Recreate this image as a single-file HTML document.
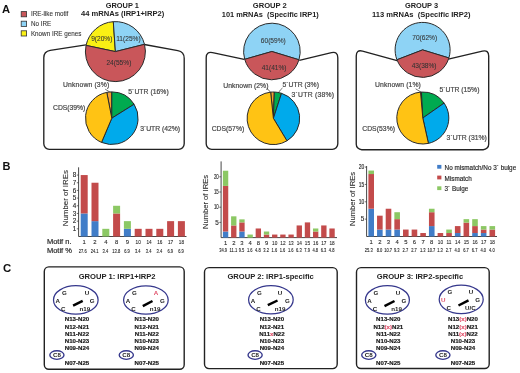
<!DOCTYPE html>
<html><head><meta charset="utf-8"><style>
html,body{margin:0;padding:0;background:#fff;width:520px;height:373px;overflow:hidden}
svg{display:block;will-change:transform;filter:blur(0.3px);font-family:"Liberation Sans", sans-serif}
</style></head><body>
<svg width="520" height="373" viewBox="0 0 520 373">
<rect width="520" height="373" fill="#fff"/>
<text x="2.0" y="13.3" font-size="11.2" font-weight="bold" fill="#111" text-anchor="start" >A</text>
<rect x="21.2" y="11.6" width="5.4" height="5.2" fill="#C9565A" stroke="#333" stroke-width="0.8"/>
<text x="30.9" y="16.4" font-size="6.3" font-weight="normal" fill="#333" text-anchor="start" stroke="#333" stroke-width="0.08">IRE-like motif</text>
<rect x="21.2" y="21.2" width="5.4" height="5.2" fill="#8ED3F5" stroke="#333" stroke-width="0.8"/>
<text x="30.9" y="26.0" font-size="6.3" font-weight="normal" fill="#333" text-anchor="start" stroke="#333" stroke-width="0.08">No IRE</text>
<rect x="21.2" y="30.8" width="5.4" height="5.2" fill="#FAF014" stroke="#333" stroke-width="0.8"/>
<text x="30.9" y="35.6" font-size="6.3" font-weight="normal" fill="#333" text-anchor="start" stroke="#333" stroke-width="0.08">Known IRE genes</text>
<text x="122.3" y="7.7" font-size="7.4" font-weight="bold" fill="#222" text-anchor="middle" >GROUP 1</text>
<text x="122.6" y="16.4" font-size="7.6" font-weight="bold" fill="#222" text-anchor="middle" >44 mRNAs (IRP1+IRP2)</text>
<text x="269.8" y="8.2" font-size="7.6" font-weight="bold" fill="#222" text-anchor="middle" >GROUP 2</text>
<text x="270.3" y="17.1" font-size="7.4" font-weight="bold" fill="#222" text-anchor="middle" >101 mRNAs&#160;&#160;(Specific IRP1)</text>
<text x="421.5" y="8.2" font-size="7.4" font-weight="bold" fill="#222" text-anchor="middle" >GROUP 3</text>
<text x="421.3" y="17.1" font-size="7.55" font-weight="bold" fill="#222" text-anchor="middle" >113 mRNAs&#160;&#160;(Specific IRP2)</text>
<path d="M85.9,44.9 L50.23,50.32 Q43.8,51.3 43.80,57.80 L43.8,143.8 A5.5,5.5 0 0 0 49.3,149.3 L178.7,149.3 A5.5,5.5 0 0 0 184.2,143.8 L184.20,58.30 Q184.2,51.8 177.81,50.63 L144.3,44.5" fill="none" stroke="#222" stroke-width="1.35" stroke-linejoin="round"/>
<path d="M244.2,59.4 L212.55,52.57 Q206.2,51.2 206.20,57.70 L206.2,143.8 A5.5,5.5 0 0 0 211.7,149.3 L332.3,149.3 A5.5,5.5 0 0 0 337.8,143.8 L337.80,57.70 Q337.8,51.2 331.48,52.71 L299.3,60.4" fill="none" stroke="#222" stroke-width="1.35" stroke-linejoin="round"/>
<path d="M397.1,60.7 L362.51,51.13 Q356.25,49.4 356.25,55.90 L356.25,144.2 A5.5,5.5 0 0 0 361.75,149.7 L483.2,149.7 A5.5,5.5 0 0 0 488.7,144.2 L488.70,56.10 Q488.7,49.6 482.38,51.11 L448.4,59.2" fill="none" stroke="#222" stroke-width="1.35" stroke-linejoin="round"/>
<path d="M115.40,51.60 L86.06,45.36 A30,30 0 0 1 113.31,21.67 Z" fill="#FAF014" stroke="#2a2a2a" stroke-width="1.0" stroke-linejoin="round"/>
<path d="M115.40,51.60 L113.31,21.67 A30,30 0 0 1 144.51,44.34 Z" fill="#8ED3F5" stroke="#2a2a2a" stroke-width="1.0" stroke-linejoin="round"/>
<path d="M115.40,51.60 L144.51,44.34 A30,30 0 1 1 86.06,45.36 Z" fill="#C9565A" stroke="#2a2a2a" stroke-width="1.0" stroke-linejoin="round"/>
<path d="M271.90,51.50 L244.70,59.30 A28.3,28.3 0 1 1 298.96,59.77 Z" fill="#8ED3F5" stroke="#2a2a2a" stroke-width="1.0" stroke-linejoin="round"/>
<path d="M271.90,51.50 L298.96,59.77 A28.3,28.3 0 0 1 244.70,59.30 Z" fill="#C9565A" stroke="#2a2a2a" stroke-width="1.0" stroke-linejoin="round"/>
<path d="M422.60,49.90 L396.93,59.76 A27.5,27.5 0 1 1 448.90,57.94 Z" fill="#8ED3F5" stroke="#2a2a2a" stroke-width="1.0" stroke-linejoin="round"/>
<path d="M422.60,49.90 L448.90,57.94 A27.5,27.5 0 0 1 396.93,59.76 Z" fill="#C9565A" stroke="#2a2a2a" stroke-width="1.0" stroke-linejoin="round"/>
<text x="101.8" y="41" font-size="6.6" fill="#333" stroke="#333" stroke-width="0.06" text-anchor="middle">9(20%)</text>
<text x="128.4" y="40.8" font-size="6.6" fill="#333" stroke="#333" stroke-width="0.06" text-anchor="middle">11(25%)</text>
<text x="118.9" y="65.2" font-size="6.6" fill="#333" stroke="#333" stroke-width="0.06" text-anchor="middle">24(55%)</text>
<text x="273.3" y="43.3" font-size="6.6" fill="#333" stroke="#333" stroke-width="0.06" text-anchor="middle">60(59%)</text>
<text x="274.1" y="69.6" font-size="6.6" fill="#333" stroke="#333" stroke-width="0.06" text-anchor="middle">41(41%)</text>
<text x="424.7" y="40.2" font-size="6.6" fill="#333" stroke="#333" stroke-width="0.06" text-anchor="middle">70(62%)</text>
<text x="424.1" y="68.2" font-size="6.6" fill="#333" stroke="#333" stroke-width="0.06" text-anchor="middle">43(38%)</text>
<path d="M111.80,118.20 L106.78,92.38 A26.3,26.3 0 0 1 111.80,91.90 Z" fill="#F3A030" stroke="#2a2a2a" stroke-width="1.0" stroke-linejoin="round"/>
<path d="M111.80,118.20 L111.80,91.90 A26.3,26.3 0 0 1 134.10,104.26 Z" fill="#00AA50" stroke="#2a2a2a" stroke-width="1.0" stroke-linejoin="round"/>
<path d="M111.80,118.20 L134.10,104.26 A26.3,26.3 0 0 1 101.52,142.41 Z" fill="#00AAEB" stroke="#2a2a2a" stroke-width="1.0" stroke-linejoin="round"/>
<path d="M111.80,118.20 L101.52,142.41 A26.3,26.3 0 0 1 106.78,92.38 Z" fill="#FFC314" stroke="#2a2a2a" stroke-width="1.0" stroke-linejoin="round"/>
<path d="M273.40,118.30 L270.65,92.14 A26.3,26.3 0 0 1 274.32,92.02 Z" fill="#F3A030" stroke="#2a2a2a" stroke-width="1.0" stroke-linejoin="round"/>
<path d="M273.40,118.30 L274.32,92.02 A26.3,26.3 0 0 1 281.53,93.29 Z" fill="#00AA50" stroke="#2a2a2a" stroke-width="1.0" stroke-linejoin="round"/>
<path d="M273.40,118.30 L281.53,93.29 A26.3,26.3 0 0 1 286.95,140.84 Z" fill="#00AAEB" stroke="#2a2a2a" stroke-width="1.0" stroke-linejoin="round"/>
<path d="M273.40,118.30 L286.95,140.84 A26.3,26.3 0 1 1 270.65,92.14 Z" fill="#FFC314" stroke="#2a2a2a" stroke-width="1.0" stroke-linejoin="round"/>
<path d="M422.80,118.00 L420.53,92.10 A26,26 0 0 1 421.44,92.04 Z" fill="#F3A030" stroke="#2a2a2a" stroke-width="1.0" stroke-linejoin="round"/>
<path d="M422.80,118.00 L421.44,92.04 A26,26 0 0 1 444.10,103.09 Z" fill="#00AA50" stroke="#2a2a2a" stroke-width="1.0" stroke-linejoin="round"/>
<path d="M422.80,118.00 L444.10,103.09 A26,26 0 0 1 428.43,143.38 Z" fill="#00AAEB" stroke="#2a2a2a" stroke-width="1.0" stroke-linejoin="round"/>
<path d="M422.80,118.00 L428.43,143.38 A26,26 0 1 1 420.53,92.10 Z" fill="#FFC314" stroke="#2a2a2a" stroke-width="1.0" stroke-linejoin="round"/>
<text x="63" y="86.5" font-size="6.8" fill="#484848" stroke="#484848" stroke-width="0.2" textLength="46.20" lengthAdjust="spacing">Unknown (3%)</text>
<text x="128.3" y="94" font-size="6.8" fill="#484848" stroke="#484848" stroke-width="0.2" textLength="40.40" lengthAdjust="spacing">5´UTR (16%)</text>
<text x="53" y="110.2" font-size="6.8" fill="#484848" stroke="#484848" stroke-width="0.2" textLength="32.30" lengthAdjust="spacing">CDS(39%)</text>
<text x="140.2" y="131" font-size="6.8" fill="#484848" stroke="#484848" stroke-width="0.2" textLength="39.70" lengthAdjust="spacing">3´UTR (42%)</text>
<text x="223.3" y="88" font-size="6.8" fill="#484848" stroke="#484848" stroke-width="0.2" textLength="45.10" lengthAdjust="spacing">Unknown (2%)</text>
<text x="282.5" y="86.5" font-size="6.8" fill="#484848" stroke="#484848" stroke-width="0.2" textLength="36.40" lengthAdjust="spacing">5´UTR (3%)</text>
<text x="291.6" y="97" font-size="6.8" fill="#484848" stroke="#484848" stroke-width="0.2" textLength="42.40" lengthAdjust="spacing">3´UTR (38%)</text>
<text x="211.7" y="131.2" font-size="6.8" fill="#484848" stroke="#484848" stroke-width="0.2" textLength="32.50" lengthAdjust="spacing">CDS(57%)</text>
<text x="375.1" y="86.8" font-size="6.8" fill="#484848" stroke="#484848" stroke-width="0.2" textLength="45.70" lengthAdjust="spacing">Unknown (1%)</text>
<text x="439.5" y="92" font-size="6.8" fill="#484848" stroke="#484848" stroke-width="0.2" textLength="39.90" lengthAdjust="spacing">5´UTR (15%)</text>
<text x="362.2" y="131" font-size="6.8" fill="#484848" stroke="#484848" stroke-width="0.2" textLength="32.80" lengthAdjust="spacing">CDS(53%)</text>
<text x="446.6" y="140.3" font-size="6.8" fill="#484848" stroke="#484848" stroke-width="0.2" textLength="40.20" lengthAdjust="spacing">3´UTR (31%)</text>
<path d="M105.2,89.2 L110.3,92.3" fill="none" stroke="#333" stroke-width="0.7"/>
<path d="M266.6,88.2 Q269,89.8 270.5,92.4" fill="none" stroke="#333" stroke-width="0.7"/>
<path d="M282.5,88 Q280,90 278.6,92.4" fill="none" stroke="#333" stroke-width="0.7"/>
<path d="M415.6,88.8 L421.5,92.4" fill="none" stroke="#333" stroke-width="0.7"/>
<text x="2.6" y="169.8" font-size="11" font-weight="bold" fill="#111" text-anchor="start" >B</text>
<path d="M78.6,167.3 L78.6,236.5 L186.5,236.5" fill="none" stroke="#333" stroke-width="0.9"/>
<path d="M76.8,228.82 L78.6,228.82" stroke="#333" stroke-width="0.7"/>
<text x="76.19999999999999" y="231.02" font-size="6.3" fill="#2a2a2a" stroke="#2a2a2a" stroke-width="0.15" text-anchor="end">1</text>
<path d="M76.8,221.14 L78.6,221.14" stroke="#333" stroke-width="0.7"/>
<text x="76.19999999999999" y="223.34" font-size="6.3" fill="#2a2a2a" stroke="#2a2a2a" stroke-width="0.15" text-anchor="end">2</text>
<path d="M76.8,213.46 L78.6,213.46" stroke="#333" stroke-width="0.7"/>
<text x="76.19999999999999" y="215.66" font-size="6.3" fill="#2a2a2a" stroke="#2a2a2a" stroke-width="0.15" text-anchor="end">3</text>
<path d="M76.8,205.78 L78.6,205.78" stroke="#333" stroke-width="0.7"/>
<text x="76.19999999999999" y="207.98" font-size="6.3" fill="#2a2a2a" stroke="#2a2a2a" stroke-width="0.15" text-anchor="end">4</text>
<path d="M76.8,198.10 L78.6,198.10" stroke="#333" stroke-width="0.7"/>
<text x="76.19999999999999" y="200.30" font-size="6.3" fill="#2a2a2a" stroke="#2a2a2a" stroke-width="0.15" text-anchor="end">5</text>
<path d="M76.8,190.42 L78.6,190.42" stroke="#333" stroke-width="0.7"/>
<text x="76.19999999999999" y="192.62" font-size="6.3" fill="#2a2a2a" stroke="#2a2a2a" stroke-width="0.15" text-anchor="end">6</text>
<path d="M76.8,182.74 L78.6,182.74" stroke="#333" stroke-width="0.7"/>
<text x="76.19999999999999" y="184.94" font-size="6.3" fill="#2a2a2a" stroke="#2a2a2a" stroke-width="0.15" text-anchor="end">7</text>
<path d="M76.8,175.06 L78.6,175.06" stroke="#333" stroke-width="0.7"/>
<text x="76.19999999999999" y="177.26" font-size="6.3" fill="#2a2a2a" stroke="#2a2a2a" stroke-width="0.15" text-anchor="end">8</text>
<rect x="80.70" y="213.46" width="7.0" height="23.04" fill="#417DC8"/>
<rect x="80.70" y="175.06" width="7.0" height="38.40" fill="#C34B4B"/>
<text x="84.20" y="243.70" font-size="5.9" fill="#2a2a2a" stroke="#2a2a2a" stroke-width="0.1" text-anchor="middle">1</text>
<text x="82.70" y="252.50" font-size="5.2" fill="#222" stroke="#222" stroke-width="0.1" text-anchor="middle" textLength="7.89" lengthAdjust="spacingAndGlyphs">27.6</text>
<rect x="91.50" y="221.14" width="7.0" height="15.36" fill="#417DC8"/>
<rect x="91.50" y="182.74" width="7.0" height="38.40" fill="#C34B4B"/>
<text x="95.00" y="243.70" font-size="5.9" fill="#2a2a2a" stroke="#2a2a2a" stroke-width="0.1" text-anchor="middle">2</text>
<text x="94.60" y="252.50" font-size="5.2" fill="#222" stroke="#222" stroke-width="0.1" text-anchor="middle" textLength="7.89" lengthAdjust="spacingAndGlyphs">24.1</text>
<rect x="102.30" y="228.82" width="7.0" height="7.68" fill="#8CC864"/>
<text x="105.80" y="243.70" font-size="5.9" fill="#2a2a2a" stroke="#2a2a2a" stroke-width="0.1" text-anchor="middle">4</text>
<text x="105.40" y="252.50" font-size="5.2" fill="#222" stroke="#222" stroke-width="0.1" text-anchor="middle" textLength="5.64" lengthAdjust="spacingAndGlyphs">3.4</text>
<rect x="113.10" y="213.46" width="7.0" height="23.04" fill="#C34B4B"/>
<rect x="113.10" y="205.78" width="7.0" height="7.68" fill="#8CC864"/>
<text x="116.60" y="243.70" font-size="5.9" fill="#2a2a2a" stroke="#2a2a2a" stroke-width="0.1" text-anchor="middle">8</text>
<text x="116.20" y="252.50" font-size="5.2" fill="#222" stroke="#222" stroke-width="0.1" text-anchor="middle" textLength="7.89" lengthAdjust="spacingAndGlyphs">13.8</text>
<rect x="123.90" y="228.82" width="7.0" height="7.68" fill="#417DC8"/>
<rect x="123.90" y="221.14" width="7.0" height="7.68" fill="#8CC864"/>
<text x="127.40" y="243.70" font-size="5.9" fill="#2a2a2a" stroke="#2a2a2a" stroke-width="0.1" text-anchor="middle">9</text>
<text x="127.00" y="252.50" font-size="5.2" fill="#222" stroke="#222" stroke-width="0.1" text-anchor="middle" textLength="5.64" lengthAdjust="spacingAndGlyphs">6.9</text>
<rect x="134.70" y="228.82" width="7.0" height="7.68" fill="#C34B4B"/>
<text x="138.20" y="243.70" font-size="5.9" fill="#2a2a2a" stroke="#2a2a2a" stroke-width="0.1" text-anchor="middle" textLength="5.25" lengthAdjust="spacingAndGlyphs">10</text>
<text x="137.80" y="252.50" font-size="5.2" fill="#222" stroke="#222" stroke-width="0.1" text-anchor="middle" textLength="5.64" lengthAdjust="spacingAndGlyphs">3.4</text>
<rect x="145.50" y="228.82" width="7.0" height="7.68" fill="#C34B4B"/>
<text x="149.00" y="243.70" font-size="5.9" fill="#2a2a2a" stroke="#2a2a2a" stroke-width="0.1" text-anchor="middle" textLength="5.25" lengthAdjust="spacingAndGlyphs">14</text>
<text x="148.60" y="252.50" font-size="5.2" fill="#222" stroke="#222" stroke-width="0.1" text-anchor="middle" textLength="5.64" lengthAdjust="spacingAndGlyphs">3.4</text>
<rect x="156.30" y="228.82" width="7.0" height="7.68" fill="#C34B4B"/>
<text x="159.80" y="243.70" font-size="5.9" fill="#2a2a2a" stroke="#2a2a2a" stroke-width="0.1" text-anchor="middle" textLength="5.25" lengthAdjust="spacingAndGlyphs">16</text>
<text x="159.40" y="252.50" font-size="5.2" fill="#222" stroke="#222" stroke-width="0.1" text-anchor="middle" textLength="5.64" lengthAdjust="spacingAndGlyphs">3.4</text>
<rect x="167.10" y="221.14" width="7.0" height="15.36" fill="#C34B4B"/>
<text x="170.60" y="243.70" font-size="5.9" fill="#2a2a2a" stroke="#2a2a2a" stroke-width="0.1" text-anchor="middle" textLength="5.25" lengthAdjust="spacingAndGlyphs">17</text>
<text x="170.20" y="252.50" font-size="5.2" fill="#222" stroke="#222" stroke-width="0.1" text-anchor="middle" textLength="5.64" lengthAdjust="spacingAndGlyphs">6.9</text>
<rect x="177.90" y="221.14" width="7.0" height="15.36" fill="#C34B4B"/>
<text x="181.40" y="243.70" font-size="5.9" fill="#2a2a2a" stroke="#2a2a2a" stroke-width="0.1" text-anchor="middle" textLength="5.25" lengthAdjust="spacingAndGlyphs">18</text>
<text x="181.00" y="252.50" font-size="5.2" fill="#222" stroke="#222" stroke-width="0.1" text-anchor="middle" textLength="5.64" lengthAdjust="spacingAndGlyphs">6.9</text>
<text transform="translate(67.6,198.2) rotate(-90)" font-size="7.9" fill="#333" stroke="#333" stroke-width="0.12" text-anchor="middle">Number of IREs</text>
<text x="46.9" y="243.8" font-size="7.5" fill="#2a2a2a" stroke="#2a2a2a" stroke-width="0.2">Motif n.</text>
<text x="46.9" y="252.6" font-size="7.5" fill="#2a2a2a" stroke="#2a2a2a" stroke-width="0.2">Motif %</text>
<path d="M221.1,161.4 L221.1,237.6 L337,237.6" fill="none" stroke="#333" stroke-width="0.9"/>
<path d="M219.29999999999998,222.40 L221.1,222.40" stroke="#333" stroke-width="0.7"/>
<text x="218.7" y="224.60" font-size="6.3" fill="#2a2a2a" stroke="#2a2a2a" stroke-width="0.15" text-anchor="end">5</text>
<path d="M219.29999999999998,207.20 L221.1,207.20" stroke="#333" stroke-width="0.7"/>
<text x="218.7" y="209.40" font-size="6.3" fill="#2a2a2a" stroke="#2a2a2a" stroke-width="0.15" text-anchor="end" textLength="4.8" lengthAdjust="spacingAndGlyphs">10</text>
<path d="M219.29999999999998,192.00 L221.1,192.00" stroke="#333" stroke-width="0.7"/>
<text x="218.7" y="194.20" font-size="6.3" fill="#2a2a2a" stroke="#2a2a2a" stroke-width="0.15" text-anchor="end" textLength="4.8" lengthAdjust="spacingAndGlyphs">15</text>
<path d="M219.29999999999998,176.80 L221.1,176.80" stroke="#333" stroke-width="0.7"/>
<text x="218.7" y="179.00" font-size="6.3" fill="#2a2a2a" stroke="#2a2a2a" stroke-width="0.15" text-anchor="end" textLength="4.8" lengthAdjust="spacingAndGlyphs">20</text>
<rect x="222.90" y="231.52" width="5.35" height="6.08" fill="#417DC8"/>
<rect x="222.90" y="185.92" width="5.35" height="45.60" fill="#C34B4B"/>
<rect x="222.90" y="170.72" width="5.35" height="15.20" fill="#8CC864"/>
<text x="225.58" y="244.80" font-size="5.9" fill="#2a2a2a" stroke="#2a2a2a" stroke-width="0.1" text-anchor="middle">1</text>
<text x="223.08" y="252.20" font-size="5.2" fill="#222" stroke="#222" stroke-width="0.1" text-anchor="middle" textLength="7.89" lengthAdjust="spacingAndGlyphs">34.9</text>
<rect x="231.09" y="225.44" width="5.35" height="12.16" fill="#C34B4B"/>
<rect x="231.09" y="216.32" width="5.35" height="9.12" fill="#8CC864"/>
<text x="233.77" y="244.80" font-size="5.9" fill="#2a2a2a" stroke="#2a2a2a" stroke-width="0.1" text-anchor="middle">2</text>
<text x="233.37" y="252.20" font-size="5.2" fill="#222" stroke="#222" stroke-width="0.1" text-anchor="middle" textLength="7.59" lengthAdjust="spacingAndGlyphs">11.1</text>
<rect x="239.28" y="231.52" width="5.35" height="6.08" fill="#417DC8"/>
<rect x="239.28" y="222.40" width="5.35" height="9.12" fill="#C34B4B"/>
<rect x="239.28" y="219.36" width="5.35" height="3.04" fill="#8CC864"/>
<text x="241.96" y="244.80" font-size="5.9" fill="#2a2a2a" stroke="#2a2a2a" stroke-width="0.1" text-anchor="middle">3</text>
<text x="241.56" y="252.20" font-size="5.2" fill="#222" stroke="#222" stroke-width="0.1" text-anchor="middle" textLength="5.64" lengthAdjust="spacingAndGlyphs">9.5</text>
<rect x="247.47" y="234.56" width="5.35" height="3.04" fill="#8CC864"/>
<text x="250.15" y="244.80" font-size="5.9" fill="#2a2a2a" stroke="#2a2a2a" stroke-width="0.1" text-anchor="middle">4</text>
<text x="249.75" y="252.20" font-size="5.2" fill="#222" stroke="#222" stroke-width="0.1" text-anchor="middle" textLength="5.64" lengthAdjust="spacingAndGlyphs">1.6</text>
<rect x="255.66" y="228.48" width="5.35" height="9.12" fill="#C34B4B"/>
<text x="258.33" y="244.80" font-size="5.9" fill="#2a2a2a" stroke="#2a2a2a" stroke-width="0.1" text-anchor="middle">8</text>
<text x="257.94" y="252.20" font-size="5.2" fill="#222" stroke="#222" stroke-width="0.1" text-anchor="middle" textLength="5.64" lengthAdjust="spacingAndGlyphs">4.8</text>
<rect x="263.85" y="234.56" width="5.35" height="3.04" fill="#C34B4B"/>
<rect x="263.85" y="231.52" width="5.35" height="3.04" fill="#8CC864"/>
<text x="266.53" y="244.80" font-size="5.9" fill="#2a2a2a" stroke="#2a2a2a" stroke-width="0.1" text-anchor="middle">9</text>
<text x="266.13" y="252.20" font-size="5.2" fill="#222" stroke="#222" stroke-width="0.1" text-anchor="middle" textLength="5.64" lengthAdjust="spacingAndGlyphs">3.2</text>
<rect x="272.04" y="234.56" width="5.35" height="3.04" fill="#C34B4B"/>
<text x="274.72" y="244.80" font-size="5.9" fill="#2a2a2a" stroke="#2a2a2a" stroke-width="0.1" text-anchor="middle" textLength="5.25" lengthAdjust="spacingAndGlyphs">10</text>
<text x="274.32" y="252.20" font-size="5.2" fill="#222" stroke="#222" stroke-width="0.1" text-anchor="middle" textLength="5.64" lengthAdjust="spacingAndGlyphs">1.6</text>
<rect x="280.23" y="234.56" width="5.35" height="3.04" fill="#C34B4B"/>
<text x="282.91" y="244.80" font-size="5.9" fill="#2a2a2a" stroke="#2a2a2a" stroke-width="0.1" text-anchor="middle" textLength="5.25" lengthAdjust="spacingAndGlyphs">12</text>
<text x="282.51" y="252.20" font-size="5.2" fill="#222" stroke="#222" stroke-width="0.1" text-anchor="middle" textLength="5.64" lengthAdjust="spacingAndGlyphs">1.6</text>
<rect x="288.42" y="234.56" width="5.35" height="3.04" fill="#C34B4B"/>
<text x="291.10" y="244.80" font-size="5.9" fill="#2a2a2a" stroke="#2a2a2a" stroke-width="0.1" text-anchor="middle" textLength="5.25" lengthAdjust="spacingAndGlyphs">13</text>
<text x="290.70" y="252.20" font-size="5.2" fill="#222" stroke="#222" stroke-width="0.1" text-anchor="middle" textLength="5.64" lengthAdjust="spacingAndGlyphs">1.6</text>
<rect x="296.61" y="225.44" width="5.35" height="12.16" fill="#C34B4B"/>
<text x="299.29" y="244.80" font-size="5.9" fill="#2a2a2a" stroke="#2a2a2a" stroke-width="0.1" text-anchor="middle" textLength="5.25" lengthAdjust="spacingAndGlyphs">14</text>
<text x="298.89" y="252.20" font-size="5.2" fill="#222" stroke="#222" stroke-width="0.1" text-anchor="middle" textLength="5.64" lengthAdjust="spacingAndGlyphs">6.3</text>
<rect x="304.80" y="222.40" width="5.35" height="15.20" fill="#C34B4B"/>
<text x="307.48" y="244.80" font-size="5.9" fill="#2a2a2a" stroke="#2a2a2a" stroke-width="0.1" text-anchor="middle" textLength="5.25" lengthAdjust="spacingAndGlyphs">15</text>
<text x="307.08" y="252.20" font-size="5.2" fill="#222" stroke="#222" stroke-width="0.1" text-anchor="middle" textLength="5.64" lengthAdjust="spacingAndGlyphs">7.9</text>
<rect x="312.99" y="231.52" width="5.35" height="6.08" fill="#C34B4B"/>
<rect x="312.99" y="228.48" width="5.35" height="3.04" fill="#8CC864"/>
<text x="315.67" y="244.80" font-size="5.9" fill="#2a2a2a" stroke="#2a2a2a" stroke-width="0.1" text-anchor="middle" textLength="5.25" lengthAdjust="spacingAndGlyphs">16</text>
<text x="315.27" y="252.20" font-size="5.2" fill="#222" stroke="#222" stroke-width="0.1" text-anchor="middle" textLength="5.64" lengthAdjust="spacingAndGlyphs">4.8</text>
<rect x="321.18" y="225.44" width="5.35" height="12.16" fill="#C34B4B"/>
<text x="323.86" y="244.80" font-size="5.9" fill="#2a2a2a" stroke="#2a2a2a" stroke-width="0.1" text-anchor="middle" textLength="5.25" lengthAdjust="spacingAndGlyphs">17</text>
<text x="323.46" y="252.20" font-size="5.2" fill="#222" stroke="#222" stroke-width="0.1" text-anchor="middle" textLength="5.64" lengthAdjust="spacingAndGlyphs">6.3</text>
<rect x="329.37" y="228.48" width="5.35" height="9.12" fill="#C34B4B"/>
<text x="332.05" y="244.80" font-size="5.9" fill="#2a2a2a" stroke="#2a2a2a" stroke-width="0.1" text-anchor="middle" textLength="5.25" lengthAdjust="spacingAndGlyphs">18</text>
<text x="331.65" y="252.20" font-size="5.2" fill="#222" stroke="#222" stroke-width="0.1" text-anchor="middle" textLength="5.64" lengthAdjust="spacingAndGlyphs">4.8</text>
<text transform="translate(207.6,202) rotate(-90)" font-size="7.6" fill="#333" stroke="#333" stroke-width="0.12" text-anchor="middle">Number of IREs</text>
<path d="M366.6,166 L366.6,236.5 L497,236.5" fill="none" stroke="#333" stroke-width="0.9"/>
<path d="M364.8,219.15 L366.6,219.15" stroke="#333" stroke-width="0.7"/>
<text x="364.20000000000005" y="221.35" font-size="6.3" fill="#2a2a2a" stroke="#2a2a2a" stroke-width="0.15" text-anchor="end">5</text>
<path d="M364.8,201.80 L366.6,201.80" stroke="#333" stroke-width="0.7"/>
<text x="364.20000000000005" y="204.00" font-size="6.3" fill="#2a2a2a" stroke="#2a2a2a" stroke-width="0.15" text-anchor="end" textLength="5.5" lengthAdjust="spacingAndGlyphs">10</text>
<path d="M364.8,184.45 L366.6,184.45" stroke="#333" stroke-width="0.7"/>
<text x="364.20000000000005" y="186.65" font-size="6.3" fill="#2a2a2a" stroke="#2a2a2a" stroke-width="0.15" text-anchor="end" textLength="5.5" lengthAdjust="spacingAndGlyphs">15</text>
<path d="M364.8,167.10 L366.6,167.10" stroke="#333" stroke-width="0.7"/>
<text x="364.20000000000005" y="169.30" font-size="6.3" fill="#2a2a2a" stroke="#2a2a2a" stroke-width="0.15" text-anchor="end" textLength="5.5" lengthAdjust="spacingAndGlyphs">20</text>
<rect x="368.40" y="208.74" width="5.6" height="27.76" fill="#417DC8"/>
<rect x="368.40" y="174.04" width="5.6" height="34.70" fill="#C34B4B"/>
<rect x="368.40" y="170.57" width="5.6" height="3.47" fill="#8CC864"/>
<text x="371.20" y="244.40" font-size="5.9" fill="#2a2a2a" stroke="#2a2a2a" stroke-width="0.1" text-anchor="middle">1</text>
<text x="368.70" y="252.00" font-size="5.2" fill="#222" stroke="#222" stroke-width="0.1" text-anchor="middle" textLength="7.89" lengthAdjust="spacingAndGlyphs">25.3</text>
<rect x="377.05" y="229.56" width="5.6" height="6.94" fill="#417DC8"/>
<rect x="377.05" y="215.68" width="5.6" height="13.88" fill="#C34B4B"/>
<text x="379.85" y="244.40" font-size="5.9" fill="#2a2a2a" stroke="#2a2a2a" stroke-width="0.1" text-anchor="middle">2</text>
<text x="379.45" y="252.00" font-size="5.2" fill="#222" stroke="#222" stroke-width="0.1" text-anchor="middle" textLength="5.64" lengthAdjust="spacingAndGlyphs">8.0</text>
<rect x="385.70" y="229.56" width="5.6" height="6.94" fill="#417DC8"/>
<rect x="385.70" y="208.74" width="5.6" height="20.82" fill="#C34B4B"/>
<text x="388.50" y="244.40" font-size="5.9" fill="#2a2a2a" stroke="#2a2a2a" stroke-width="0.1" text-anchor="middle">3</text>
<text x="388.10" y="252.00" font-size="5.2" fill="#222" stroke="#222" stroke-width="0.1" text-anchor="middle" textLength="7.89" lengthAdjust="spacingAndGlyphs">10.7</text>
<rect x="394.35" y="229.56" width="5.6" height="6.94" fill="#417DC8"/>
<rect x="394.35" y="219.15" width="5.6" height="10.41" fill="#C34B4B"/>
<rect x="394.35" y="212.21" width="5.6" height="6.94" fill="#8CC864"/>
<text x="397.15" y="244.40" font-size="5.9" fill="#2a2a2a" stroke="#2a2a2a" stroke-width="0.1" text-anchor="middle">4</text>
<text x="396.75" y="252.00" font-size="5.2" fill="#222" stroke="#222" stroke-width="0.1" text-anchor="middle" textLength="5.64" lengthAdjust="spacingAndGlyphs">9.3</text>
<rect x="403.00" y="229.56" width="5.6" height="6.94" fill="#C34B4B"/>
<text x="405.80" y="244.40" font-size="5.9" fill="#2a2a2a" stroke="#2a2a2a" stroke-width="0.1" text-anchor="middle">5</text>
<text x="405.40" y="252.00" font-size="5.2" fill="#222" stroke="#222" stroke-width="0.1" text-anchor="middle" textLength="5.64" lengthAdjust="spacingAndGlyphs">2.7</text>
<rect x="411.65" y="229.56" width="5.6" height="6.94" fill="#C34B4B"/>
<text x="414.45" y="244.40" font-size="5.9" fill="#2a2a2a" stroke="#2a2a2a" stroke-width="0.1" text-anchor="middle">6</text>
<text x="414.05" y="252.00" font-size="5.2" fill="#222" stroke="#222" stroke-width="0.1" text-anchor="middle" textLength="5.64" lengthAdjust="spacingAndGlyphs">2.7</text>
<rect x="420.30" y="233.03" width="5.6" height="3.47" fill="#C34B4B"/>
<text x="423.10" y="244.40" font-size="5.9" fill="#2a2a2a" stroke="#2a2a2a" stroke-width="0.1" text-anchor="middle">7</text>
<text x="422.70" y="252.00" font-size="5.2" fill="#222" stroke="#222" stroke-width="0.1" text-anchor="middle" textLength="5.64" lengthAdjust="spacingAndGlyphs">1.3</text>
<rect x="428.95" y="226.09" width="5.6" height="10.41" fill="#417DC8"/>
<rect x="428.95" y="212.21" width="5.6" height="13.88" fill="#C34B4B"/>
<rect x="428.95" y="208.74" width="5.6" height="3.47" fill="#8CC864"/>
<text x="431.75" y="244.40" font-size="5.9" fill="#2a2a2a" stroke="#2a2a2a" stroke-width="0.1" text-anchor="middle">8</text>
<text x="431.35" y="252.00" font-size="5.2" fill="#222" stroke="#222" stroke-width="0.1" text-anchor="middle" textLength="7.89" lengthAdjust="spacingAndGlyphs">10.7</text>
<rect x="437.60" y="233.03" width="5.6" height="3.47" fill="#C34B4B"/>
<text x="440.40" y="244.40" font-size="5.9" fill="#2a2a2a" stroke="#2a2a2a" stroke-width="0.1" text-anchor="middle" textLength="5.25" lengthAdjust="spacingAndGlyphs">10</text>
<text x="440.00" y="252.00" font-size="5.2" fill="#222" stroke="#222" stroke-width="0.1" text-anchor="middle" textLength="5.64" lengthAdjust="spacingAndGlyphs">1.3</text>
<rect x="446.25" y="233.03" width="5.6" height="3.47" fill="#C34B4B"/>
<rect x="446.25" y="229.56" width="5.6" height="3.47" fill="#8CC864"/>
<text x="449.05" y="244.40" font-size="5.9" fill="#2a2a2a" stroke="#2a2a2a" stroke-width="0.1" text-anchor="middle" textLength="4.90" lengthAdjust="spacingAndGlyphs">11</text>
<text x="448.65" y="252.00" font-size="5.2" fill="#222" stroke="#222" stroke-width="0.1" text-anchor="middle" textLength="5.64" lengthAdjust="spacingAndGlyphs">2.7</text>
<rect x="454.90" y="233.03" width="5.6" height="3.47" fill="#417DC8"/>
<rect x="454.90" y="226.09" width="5.6" height="6.94" fill="#C34B4B"/>
<text x="457.70" y="244.40" font-size="5.9" fill="#2a2a2a" stroke="#2a2a2a" stroke-width="0.1" text-anchor="middle" textLength="5.25" lengthAdjust="spacingAndGlyphs">14</text>
<text x="457.30" y="252.00" font-size="5.2" fill="#222" stroke="#222" stroke-width="0.1" text-anchor="middle" textLength="5.64" lengthAdjust="spacingAndGlyphs">4.0</text>
<rect x="463.55" y="222.62" width="5.6" height="13.88" fill="#C34B4B"/>
<rect x="463.55" y="219.15" width="5.6" height="3.47" fill="#8CC864"/>
<text x="466.35" y="244.40" font-size="5.9" fill="#2a2a2a" stroke="#2a2a2a" stroke-width="0.1" text-anchor="middle" textLength="5.25" lengthAdjust="spacingAndGlyphs">15</text>
<text x="465.95" y="252.00" font-size="5.2" fill="#222" stroke="#222" stroke-width="0.1" text-anchor="middle" textLength="5.64" lengthAdjust="spacingAndGlyphs">6.7</text>
<rect x="472.20" y="233.03" width="5.6" height="3.47" fill="#417DC8"/>
<rect x="472.20" y="226.09" width="5.6" height="6.94" fill="#C34B4B"/>
<rect x="472.20" y="219.15" width="5.6" height="6.94" fill="#8CC864"/>
<text x="475.00" y="244.40" font-size="5.9" fill="#2a2a2a" stroke="#2a2a2a" stroke-width="0.1" text-anchor="middle" textLength="5.25" lengthAdjust="spacingAndGlyphs">16</text>
<text x="474.60" y="252.00" font-size="5.2" fill="#222" stroke="#222" stroke-width="0.1" text-anchor="middle" textLength="5.64" lengthAdjust="spacingAndGlyphs">6.7</text>
<rect x="480.85" y="233.03" width="5.6" height="3.47" fill="#417DC8"/>
<rect x="480.85" y="229.56" width="5.6" height="3.47" fill="#C34B4B"/>
<rect x="480.85" y="226.09" width="5.6" height="3.47" fill="#8CC864"/>
<text x="483.65" y="244.40" font-size="5.9" fill="#2a2a2a" stroke="#2a2a2a" stroke-width="0.1" text-anchor="middle" textLength="5.25" lengthAdjust="spacingAndGlyphs">17</text>
<text x="483.25" y="252.00" font-size="5.2" fill="#222" stroke="#222" stroke-width="0.1" text-anchor="middle" textLength="5.64" lengthAdjust="spacingAndGlyphs">4.0</text>
<rect x="489.50" y="229.56" width="5.6" height="6.94" fill="#C34B4B"/>
<rect x="489.50" y="226.09" width="5.6" height="3.47" fill="#8CC864"/>
<text x="492.30" y="244.40" font-size="5.9" fill="#2a2a2a" stroke="#2a2a2a" stroke-width="0.1" text-anchor="middle" textLength="5.25" lengthAdjust="spacingAndGlyphs">18</text>
<text x="491.90" y="252.00" font-size="5.2" fill="#222" stroke="#222" stroke-width="0.1" text-anchor="middle" textLength="5.64" lengthAdjust="spacingAndGlyphs">4.0</text>
<text transform="translate(355,199) rotate(-90)" font-size="7.6" fill="#333" stroke="#333" stroke-width="0.12" text-anchor="middle">Number of IREs</text>
<rect x="437.2" y="164.9" width="4.2" height="3.8" fill="#417DC8"/>
<text x="444.6" y="169.8" font-size="6.35" font-weight="normal" fill="#262626" text-anchor="start" stroke="#262626" stroke-width="0.15">No mismatch/No 3´ bulge</text>
<rect x="437.2" y="175.6" width="4.2" height="3.8" fill="#C34B4B"/>
<text x="444.6" y="180.5" font-size="6.35" font-weight="normal" fill="#262626" text-anchor="start" stroke="#262626" stroke-width="0.15">Mismatch</text>
<rect x="437.2" y="186.3" width="4.2" height="3.8" fill="#8CC864"/>
<text x="444.6" y="191.2" font-size="6.35" font-weight="normal" fill="#262626" text-anchor="start" stroke="#262626" stroke-width="0.15">3´ Bulge</text>
<text x="2.9" y="272.1" font-size="11.4" font-weight="bold" fill="#111" text-anchor="start" >C</text>
<rect x="44.3" y="266.9" width="139.90" height="102.40" rx="4.5" fill="none" stroke="#222" stroke-width="1.4"/>
<rect x="204.5" y="267.6" width="132.70" height="101.00" rx="4.5" fill="none" stroke="#222" stroke-width="1.4"/>
<rect x="356.5" y="267.6" width="132.70" height="100.90" rx="4.5" fill="none" stroke="#222" stroke-width="1.4"/>
<text x="117.1" y="278.6" font-size="7.6" font-weight="bold" fill="#222" text-anchor="middle" >GROUP 1: IRP1+IRP2</text>
<text x="270.6" y="278.8" font-size="7.6" font-weight="bold" fill="#222" text-anchor="middle" >GROUP 2: IRP1-specific</text>
<text x="420" y="278.8" font-size="7.6" font-weight="bold" fill="#222" text-anchor="middle" >GROUP 3: IRP2-specific</text>
<ellipse cx="75.8" cy="299.9" rx="22.3" ry="14.2" fill="none" stroke="#35378C" stroke-width="1.25"/>
<text x="64.4" y="294.6" font-size="6.2" font-weight="bold" fill="#222" text-anchor="middle" >G</text>
<text x="87.0" y="294.6" font-size="6.2" font-weight="bold" fill="#222" text-anchor="middle" >U</text>
<text x="57.8" y="302.7" font-size="6.2" font-weight="bold" fill="#222" text-anchor="middle" >A</text>
<text x="92.2" y="302.7" font-size="6.2" font-weight="bold" fill="#222" text-anchor="middle" >G</text>
<text x="63.3" y="310.6" font-size="6.2" font-weight="bold" fill="#222" text-anchor="middle" >C</text>
<text x="84.9" y="310.6" font-size="6.2" font-weight="bold" fill="#222" text-anchor="middle" >n19</text>
<path d="M73.1,305.6 L82.7,300.8" stroke="#000" stroke-width="2.5"/>
<ellipse cx="145.9" cy="300" rx="22.3" ry="14.2" fill="none" stroke="#35378C" stroke-width="1.25"/>
<text x="134.5" y="294.7" font-size="6.2" font-weight="bold" fill="#222" text-anchor="middle" >G</text>
<text x="156.0" y="294.7" font-size="6.2" font-weight="bold" fill="#E0506A" text-anchor="middle" >A</text>
<text x="127.9" y="302.8" font-size="6.2" font-weight="bold" fill="#222" text-anchor="middle" >A</text>
<text x="162.3" y="302.8" font-size="6.2" font-weight="bold" fill="#222" text-anchor="middle" >G</text>
<text x="133.4" y="310.7" font-size="6.2" font-weight="bold" fill="#222" text-anchor="middle" >C</text>
<text x="155.0" y="310.7" font-size="6.2" font-weight="bold" fill="#222" text-anchor="middle" >n19</text>
<path d="M142.8,306.2 L152.5,301" stroke="#000" stroke-width="2.5"/>
<ellipse cx="270.9" cy="299.8" rx="22.3" ry="14.2" fill="none" stroke="#35378C" stroke-width="1.25"/>
<text x="259.5" y="294.5" font-size="6.2" font-weight="bold" fill="#222" text-anchor="middle" >G</text>
<text x="280.1" y="294.5" font-size="6.2" font-weight="bold" fill="#222" text-anchor="middle" >U</text>
<text x="252.9" y="302.6" font-size="6.2" font-weight="bold" fill="#222" text-anchor="middle" >A</text>
<text x="287.3" y="302.6" font-size="6.2" font-weight="bold" fill="#222" text-anchor="middle" >G</text>
<text x="258.4" y="310.5" font-size="6.2" font-weight="bold" fill="#222" text-anchor="middle" >C</text>
<text x="280.0" y="310.5" font-size="6.2" font-weight="bold" fill="#222" text-anchor="middle" >n19</text>
<path d="M267.8,305.2 L277.5,300.5" stroke="#000" stroke-width="2.5"/>
<ellipse cx="387.4" cy="299.9" rx="22.0" ry="14.2" fill="none" stroke="#35378C" stroke-width="1.25"/>
<text x="376.0" y="294.6" font-size="6.2" font-weight="bold" fill="#222" text-anchor="middle" >G</text>
<text x="398.0" y="294.6" font-size="6.2" font-weight="bold" fill="#222" text-anchor="middle" >U</text>
<text x="369.4" y="302.7" font-size="6.2" font-weight="bold" fill="#222" text-anchor="middle" >A</text>
<text x="403.8" y="302.7" font-size="6.2" font-weight="bold" fill="#222" text-anchor="middle" >G</text>
<text x="374.9" y="310.6" font-size="6.2" font-weight="bold" fill="#222" text-anchor="middle" >C</text>
<text x="396.5" y="310.6" font-size="6.2" font-weight="bold" fill="#222" text-anchor="middle" >n19</text>
<path d="M384.5,306.2 L394.5,301" stroke="#000" stroke-width="2.5"/>
<ellipse cx="461.2" cy="299.4" rx="22.0" ry="14.2" fill="none" stroke="#35378C" stroke-width="1.25"/>
<text x="449.8" y="294.1" font-size="6.2" font-weight="bold" fill="#222" text-anchor="middle" >G</text>
<text x="471.0" y="294.1" font-size="6.2" font-weight="bold" fill="#222" text-anchor="middle" >U</text>
<text x="443.2" y="302.2" font-size="6.2" font-weight="bold" fill="#E0506A" text-anchor="middle" >U</text>
<text x="477.6" y="302.2" font-size="6.2" font-weight="bold" fill="#222" text-anchor="middle" >G</text>
<text x="448.7" y="310.1" font-size="6.2" font-weight="bold" fill="#222" text-anchor="middle" >C</text>
<text x="470.3" y="310.1" font-size="6.2" font-weight="bold" fill="#222" text-anchor="middle" >U/C</text>
<path d="M458.5,305.5 L468.5,300.3" stroke="#000" stroke-width="2.5"/>
<text x="77" y="321.2" font-size="6.1" font-weight="bold" fill="#1a1a1a" stroke="#1a1a1a" stroke-width="0.18" text-anchor="middle">N13-N20</text>
<text x="77" y="328.5" font-size="6.1" font-weight="bold" fill="#1a1a1a" stroke="#1a1a1a" stroke-width="0.18" text-anchor="middle">N12-N21</text>
<text x="77" y="335.7" font-size="6.1" font-weight="bold" fill="#1a1a1a" stroke="#1a1a1a" stroke-width="0.18" text-anchor="middle">N11-N22</text>
<text x="77" y="342.9" font-size="6.1" font-weight="bold" fill="#1a1a1a" stroke="#1a1a1a" stroke-width="0.18" text-anchor="middle">N10-N23</text>
<text x="77" y="350.1" font-size="6.1" font-weight="bold" fill="#1a1a1a" stroke="#1a1a1a" stroke-width="0.18" text-anchor="middle">N09-N24</text>
<text x="77" y="364.6" font-size="6.1" font-weight="bold" fill="#1a1a1a" stroke="#1a1a1a" stroke-width="0.18" text-anchor="middle">N07-N25</text>
<ellipse cx="56.9" cy="355" rx="7.1" ry="4.3" fill="none" stroke="#35378C" stroke-width="1.35"/>
<text x="56.9" y="357.2" font-size="6.2" font-weight="bold" fill="#222" text-anchor="middle" >C8</text>
<text x="146.8" y="321.2" font-size="6.1" font-weight="bold" fill="#1a1a1a" stroke="#1a1a1a" stroke-width="0.18" text-anchor="middle">N13-N20</text>
<text x="146.8" y="328.5" font-size="6.1" font-weight="bold" fill="#1a1a1a" stroke="#1a1a1a" stroke-width="0.18" text-anchor="middle">N12-N21</text>
<text x="146.8" y="335.7" font-size="6.1" font-weight="bold" fill="#1a1a1a" stroke="#1a1a1a" stroke-width="0.18" text-anchor="middle">N11-N22</text>
<text x="146.8" y="342.9" font-size="6.1" font-weight="bold" fill="#1a1a1a" stroke="#1a1a1a" stroke-width="0.18" text-anchor="middle">N10-N23</text>
<text x="146.8" y="350.1" font-size="6.1" font-weight="bold" fill="#1a1a1a" stroke="#1a1a1a" stroke-width="0.18" text-anchor="middle">N09-N24</text>
<text x="146.8" y="364.6" font-size="6.1" font-weight="bold" fill="#1a1a1a" stroke="#1a1a1a" stroke-width="0.18" text-anchor="middle">N07-N25</text>
<ellipse cx="126.3" cy="355" rx="7.1" ry="4.3" fill="none" stroke="#35378C" stroke-width="1.35"/>
<text x="126.3" y="357.2" font-size="6.2" font-weight="bold" fill="#222" text-anchor="middle" >C8</text>
<text x="271.9" y="321.2" font-size="6.1" font-weight="bold" fill="#1a1a1a" stroke="#1a1a1a" stroke-width="0.18" text-anchor="middle">N13-N20</text>
<text x="271.9" y="328.5" font-size="6.1" font-weight="bold" fill="#1a1a1a" stroke="#1a1a1a" stroke-width="0.18" text-anchor="middle">N12-N21</text>
<text x="271.9" y="335.7" font-size="6.1" font-weight="bold" fill="#1a1a1a" stroke="#1a1a1a" stroke-width="0.18" text-anchor="middle">N11<tspan fill="#E0506A" stroke="#E0506A">x</tspan>N22</text>
<text x="271.9" y="342.9" font-size="6.1" font-weight="bold" fill="#1a1a1a" stroke="#1a1a1a" stroke-width="0.18" text-anchor="middle">N10-N23</text>
<text x="271.9" y="350.1" font-size="6.1" font-weight="bold" fill="#1a1a1a" stroke="#1a1a1a" stroke-width="0.18" text-anchor="middle">N09-N24</text>
<text x="271.9" y="364.6" font-size="6.1" font-weight="bold" fill="#1a1a1a" stroke="#1a1a1a" stroke-width="0.18" text-anchor="middle">N07-N25</text>
<ellipse cx="255.1" cy="355" rx="7.1" ry="4.3" fill="none" stroke="#35378C" stroke-width="1.35"/>
<text x="255.1" y="357.2" font-size="6.2" font-weight="bold" fill="#222" text-anchor="middle" >C8</text>
<text x="388.3" y="321.2" font-size="6.1" font-weight="bold" fill="#1a1a1a" stroke="#1a1a1a" stroke-width="0.18" text-anchor="middle">N13-N20</text>
<text x="388.3" y="328.5" font-size="6.1" font-weight="bold" fill="#1a1a1a" stroke="#1a1a1a" stroke-width="0.18" text-anchor="middle">N12<tspan fill="#E0506A" stroke="#E0506A">(x)</tspan>N21</text>
<text x="388.3" y="335.7" font-size="6.1" font-weight="bold" fill="#1a1a1a" stroke="#1a1a1a" stroke-width="0.18" text-anchor="middle">N11-N22</text>
<text x="388.3" y="342.9" font-size="6.1" font-weight="bold" fill="#1a1a1a" stroke="#1a1a1a" stroke-width="0.18" text-anchor="middle">N10-N23</text>
<text x="388.3" y="350.1" font-size="6.1" font-weight="bold" fill="#1a1a1a" stroke="#1a1a1a" stroke-width="0.18" text-anchor="middle">N09-N24</text>
<text x="388.3" y="364.6" font-size="6.1" font-weight="bold" fill="#1a1a1a" stroke="#1a1a1a" stroke-width="0.18" text-anchor="middle">N07-N25</text>
<ellipse cx="368.8" cy="355" rx="7.1" ry="4.3" fill="none" stroke="#35378C" stroke-width="1.35"/>
<text x="368.8" y="357.2" font-size="6.2" font-weight="bold" fill="#222" text-anchor="middle" >C8</text>
<text x="463" y="321.2" font-size="6.1" font-weight="bold" fill="#1a1a1a" stroke="#1a1a1a" stroke-width="0.18" text-anchor="middle">N13<tspan fill="#E0506A" stroke="#E0506A">(x)</tspan>N20</text>
<text x="463" y="328.5" font-size="6.1" font-weight="bold" fill="#1a1a1a" stroke="#1a1a1a" stroke-width="0.18" text-anchor="middle">N12<tspan fill="#E0506A" stroke="#E0506A">(x)</tspan>N21</text>
<text x="463" y="335.7" font-size="6.1" font-weight="bold" fill="#1a1a1a" stroke="#1a1a1a" stroke-width="0.18" text-anchor="middle">N11<tspan fill="#E0506A" stroke="#E0506A">(x)</tspan>N22</text>
<text x="463" y="342.9" font-size="6.1" font-weight="bold" fill="#1a1a1a" stroke="#1a1a1a" stroke-width="0.18" text-anchor="middle">N10-N23</text>
<text x="463" y="350.1" font-size="6.1" font-weight="bold" fill="#1a1a1a" stroke="#1a1a1a" stroke-width="0.18" text-anchor="middle">N09-N24</text>
<text x="463" y="364.6" font-size="6.1" font-weight="bold" fill="#1a1a1a" stroke="#1a1a1a" stroke-width="0.18" text-anchor="middle">N07-N25</text>
<ellipse cx="442.9" cy="355" rx="7.1" ry="4.3" fill="none" stroke="#35378C" stroke-width="1.35"/>
<text x="442.9" y="357.2" font-size="6.2" font-weight="bold" fill="#222" text-anchor="middle" >C8</text>
</svg></body></html>
